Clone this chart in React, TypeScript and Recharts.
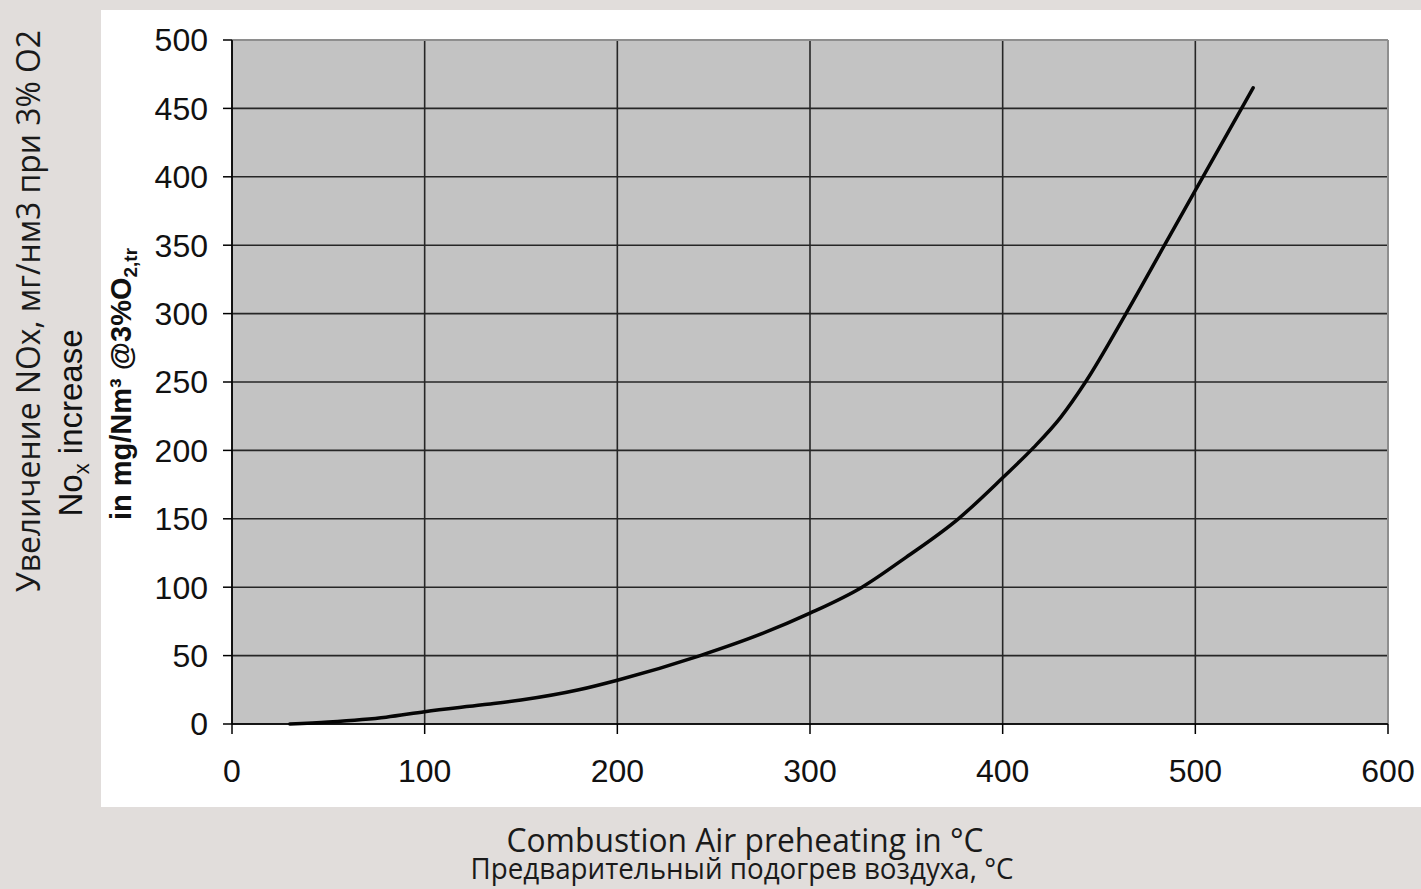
import React from 'react'
import {
  CartesianGrid,
  Customized,
  Line,
  LineChart,
  ReferenceLine,
  XAxis,
  YAxis,
} from 'recharts'

// air preheating temperature, °C
const temps = [30, 50, 80, 100, 130, 150, 180, 200, 243, 275, 300, 327, 350, 377, 400, 416, 430, 443, 464, 484, 500, 524, 530]
// NOx increase, mg/Nm3 @3% O2
const nox = [0, 1.5, 5, 9, 14, 17.5, 25, 32, 50, 66, 81, 100, 122, 150, 180, 202, 224, 250, 300, 350, 390, 450, 465]

const xTicks = [0, 100, 200, 300, 400, 500, 600]
const yTicks = [0, 50, 100, 150, 200, 250, 300, 350, 400, 450, 500]

const data = temps.map((t, i) => ({ t, v: nox[i] }))

const tickFont = { fontFamily: 'Liberation Sans, Arial, sans-serif', fontSize: 32, fill: '#111' }
const titleFont = 'Open Sans, Noto Sans, sans-serif'

const AxisTitles = () => {
  return (
    <g>
      <text
        transform="translate(40, 311) rotate(-90)"
        textAnchor="middle"
        fontFamily={titleFont}
        fontSize={33}
        fill="#1a1a1a"
        textLength={562}
        lengthAdjust="spacingAndGlyphs"
      >
        Увеличение NOx, мг/нм3 при 3% O2
      </text>
      <text
        transform="translate(82, 423) rotate(-90)"
        textAnchor="middle"
        fontFamily="Liberation Sans, Arial, sans-serif"
        fontSize={33}
        fill="#111"
      >
        No
        <tspan fontSize={22} dy={7}>x</tspan>
        <tspan dy={-7}> increase</tspan>
      </text>
      <text
        transform="translate(131, 384) rotate(-90)"
        textAnchor="middle"
        fontFamily="Liberation Sans, Arial, sans-serif"
        fontWeight="bold"
        fontSize={29}
        fill="#111"
      >
        in mg/Nm³ @3%O
        <tspan fontSize={19} dy={6}>2,tr</tspan>
      </text>
      <text
        x={745}
        y={852}
        textAnchor="middle"
        fontFamily={titleFont}
        fontSize={32}
        fill="#1a1a1a"
        textLength={477}
        lengthAdjust="spacingAndGlyphs"
      >
        Combustion Air preheating in °C
      </text>
      <text
        x={742}
        y={879}
        textAnchor="middle"
        fontFamily={titleFont}
        fontSize={30}
        fill="#1a1a1a"
        textLength={543}
        lengthAdjust="spacingAndGlyphs"
      >
        Предварительный подогрев воздуха, °C
      </text>
    </g>
  )
}

const App = () => {
  return (
    <div
      style={{
        position: 'absolute',
        left: 0,
        top: 0,
        width: 1421,
        height: 889,
        background: '#e1dddb',
        overflow: 'hidden',
      }}
    >
      <div
        style={{
          position: 'absolute',
          left: 101,
          top: 10,
          width: 1320,
          height: 797,
          background: '#ffffff',
        }}
      />
      <div style={{ position: 'absolute', left: 0, top: 0 }}>
        <LineChart
          width={1421}
          height={889}
          data={data}
          margin={{ top: 40, right: 33, bottom: 105, left: 152 }}
        >
          <CartesianGrid
            fill="#c3c3c3"
            fillOpacity={1}
            stroke="#262626"
            strokeWidth={1.6}
          />
          <ReferenceLine y={500} stroke="#8e8e8e" strokeWidth={2} />
          <ReferenceLine x={600} stroke="#8e8e8e" strokeWidth={2} />
          <XAxis
            dataKey="t"
            type="number"
            domain={[0, 600]}
            ticks={xTicks}
            height={60}
            axisLine={{ stroke: '#000', strokeWidth: 1.5 }}
            tickLine={{ stroke: '#000', strokeWidth: 1.5 }}
            tickSize={10}
            tickMargin={25}
            tick={tickFont}
          />
          <YAxis
            type="number"
            domain={[0, 500]}
            ticks={yTicks}
            width={80}
            axisLine={{ stroke: '#000', strokeWidth: 1.5 }}
            tickLine={{ stroke: '#000', strokeWidth: 1.5 }}
            tickSize={9}
            tickMargin={15}
            tick={tickFont}
          />
          <Line
            type="monotone"
            dataKey="v"
            stroke="#050505"
            strokeWidth={3.5}
            strokeLinecap="round"
            dot={false}
            isAnimationActive={false}
          />
          <Customized component={AxisTitles} />
        </LineChart>
      </div>
    </div>
  )
}

export default App
